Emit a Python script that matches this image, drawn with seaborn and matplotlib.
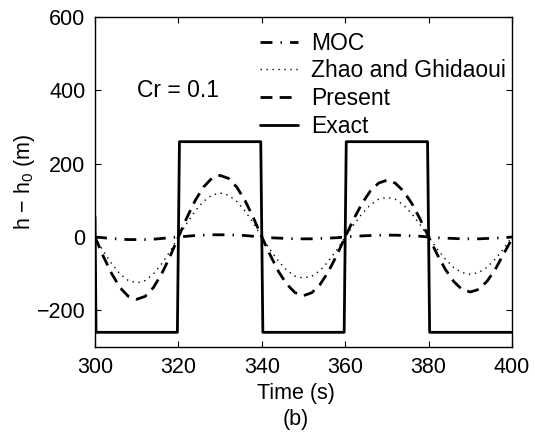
import matplotlib
matplotlib.use("Agg")
import matplotlib.pyplot as plt
import seaborn as sns
import pandas as pd

# Sample times (s) for the numerical schemes
time = list(range(300, 401, 2))

# Head deviation h - h0 (m) for each scheme, Cr = 0.1
moc = [0, -2, -4, -6, -7, -7, -7, -6, -4, -2, 0,
       2, 4, 5, 6, 6, 6, 5, 4, 2, 0,
       -2, -3, -4, -5, -5, -5, -4, -3, -2, 0,
       2, 3, 4, 5, 5, 5, 4, 3, 2, 0,
       -2, -3, -4, -5, -5, -5, -4, -3, -2, 0]
zhao = [0, -39, -73, -101, -119, -125, -119, -101, -73, -39, 0,
        37, 71, 97, 114, 120, 114, 97, 71, 37, 0,
        -35, -66, -91, -107, -112, -107, -91, -66, -35, 0,
        33, 63, 87, 103, 108, 103, 87, 63, 33, 0,
        -32, -60, -83, -97, -102, -97, -83, -60, -32, 0]
present = [0, -53, -100, -138, -162, -170, -162, -138, -100, -53, 0,
           52, 99, 136, 160, 168, 160, 136, 99, 52, 0,
           -49, -94, -129, -152, -160, -152, -129, -94, -49, 0,
           48, 91, 125, 147, 155, 147, 125, 91, 48, 0,
           -46, -88, -121, -143, -150, -143, -121, -88, -46, -5]

# Exact square-wave solution
exact_time = [300, 300.25, 319.75, 320.25, 339.75, 340.25, 359.75, 360.25,
              379.75, 380.25, 400]
exact_head = [55, -260, -260, 260, 260, -260, -260, 260, 260, -260, -260]

labels = ["MOC", "Zhao and Ghidaoui", "Present", "Exact"]

sns.set_style("ticks")
plt.rcParams["font.family"] = ["Liberation Sans", "DejaVu Sans"]
plt.rcParams["mathtext.fontset"] = "custom"
plt.rcParams["mathtext.rm"] = "Liberation Sans"
plt.rcParams["text.color"] = "black"
plt.rcParams["axes.labelcolor"] = "black"

fs = 15.5
fs_text = 16.5
fig = plt.figure(figsize=(5.35, 4.37), dpi=100)
ax = fig.add_axes([0.1776, 0.206, 0.7794, 0.755])

df = pd.DataFrame({"t": time, "MOC": moc, "Zhao": zhao, "Present": present})
ex = pd.DataFrame({"t": exact_time, "h": exact_head})

sns.lineplot(data=df, x="t", y="MOC", ax=ax, color="black", lw=2.0,
             linestyle=(0, (4.3, 2.9, 0.5, 2.9)), label=labels[0])
sns.lineplot(data=df, x="t", y="Zhao", ax=ax, color="black", lw=1.0,
             linestyle=(0, (1, 3.3)), label=labels[1])
sns.lineplot(data=df, x="t", y="Present", ax=ax, color="black", lw=2.0,
             linestyle=(0, (4.3, 2.6)), label=labels[2])
sns.lineplot(data=ex, x="t", y="h", ax=ax, color="black", lw=2.0,
             linestyle="-", label=labels[3])

ax.set_xlim(300, 400)
ax.set_ylim(-300, 600)
ax.set_xticks(range(300, 401, 20))
ax.set_yticks(range(-200, 601, 200))
ax.set_yticklabels(["\u2212200", "0", "200", "400", "600"])
ax.tick_params(direction="in", length=4, width=0.8, labelsize=fs, pad=7,
               top=True, right=True, colors="black")
for s in ax.spines.values():
    s.set_visible(True)
    s.set_linewidth(1.0)
    s.set_color("black")

ax.set_xlabel("Time (s)\n(b)", fontsize=fs, linespacing=1.3, color="black")
ax.xaxis.set_label_coords(0.481, -0.11)
ax.set_ylabel("h \u2212 h$\\mathregular{_0}$ (m)", fontsize=fs, color="black")
ax.yaxis.set_label_coords(-0.14, 0.5)

ax.text(310, 400, "Cr = 0.1", fontsize=fs_text, ha="left", va="center",
        color="black")

leg = ax.legend(loc="upper left", bbox_to_anchor=(0.395, 0.955),
                frameon=False, fontsize=fs_text, handlelength=1.65,
                handletextpad=0.6, labelspacing=0.2, borderpad=0,
                borderaxespad=0)
for t in leg.get_texts():
    t.set_color("black")

fig.savefig("out.png", dpi=100)
